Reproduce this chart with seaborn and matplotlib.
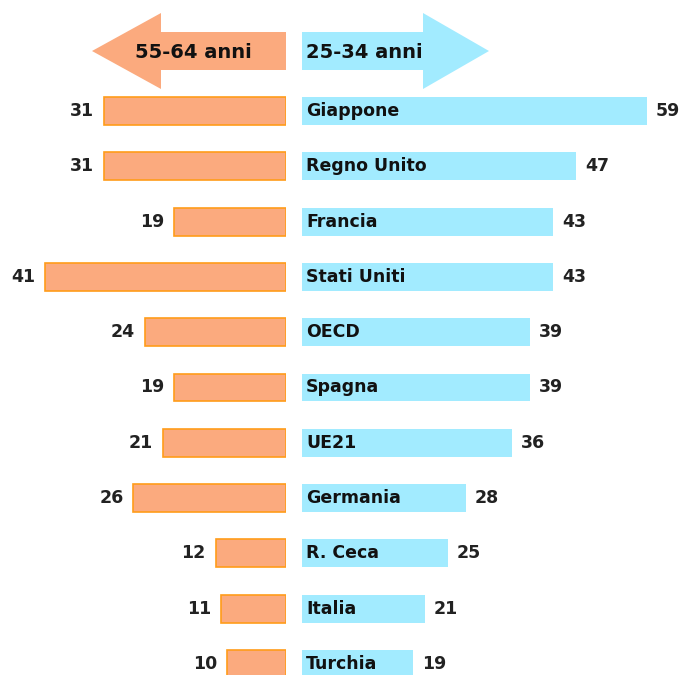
import numpy as np
import pandas as pd
import matplotlib
matplotlib.use('Agg')
import matplotlib.pyplot as plt
from matplotlib.patches import Polygon
import seaborn as sns

# data
countries = ['Giappone', 'Regno Unito', 'Francia', 'Stati Uniti', 'OECD', 'Spagna',
             'UE21', 'Germania', 'R. Ceca', 'Italia', 'Turchia']
age_25_34 = [59, 47, 43, 43, 39, 39, 36, 28, 25, 21, 19]
age_55_64 = [31, 31, 19, 41, 24, 19, 21, 26, 12, 11, 10]
left_label = '55-64 anni'
right_label = '25-34 anni'

orange = '#FBAA7E'
orange_edge = '#FF9C1A'
blue = '#A2EBFF'

sns.set_style('white')
plt.rcParams['font.family'] = ['DejaVu Sans']

W, H = 681, 675
fig = plt.figure(figsize=(W / 100, H / 100), dpi=100)

df = pd.DataFrame({'country': countries, 'young': age_25_34, 'old': age_55_64})

# px helpers
top_row, row_step = 111, 55.3
y_lo = (0 - top_row) / row_step
y_hi = (H - top_row) / row_step
bar_w = 28 / row_step

ax_l = fig.add_axes([0, 0, 286 / W, 1])
ax_r = fig.add_axes([302 / W, 0, 1 - 302 / W, 1])

sns.barplot(data=df, x='old', y='country', orient='h', ax=ax_l, color=orange,
            saturation=1, width=bar_w, edgecolor=orange_edge, linewidth=1.2)
sns.barplot(data=df, x='young', y='country', orient='h', ax=ax_r, color=blue,
            saturation=1, width=bar_w, linewidth=0)

ax_l.set_xlim(286 / 5.87, 0)
ax_r.set_xlim(0, (W - 302) / 5.84)
for ax in (ax_l, ax_r):
    ax.set_ylim(y_hi, y_lo)
    ax.axis('off')

fs = 12.5
for i, (c, v) in enumerate(zip(countries, age_55_64)):
    ax_l.text(v + 1.7, i, str(v), ha='right', va='center', fontsize=fs, fontweight='bold', color='#222222')
for i, (c, v) in enumerate(zip(countries, age_25_34)):
    ax_r.text(0.7, i, c, ha='left', va='center', fontsize=fs, fontweight='bold', color='#111111')
    ax_r.text(v + 1.5, i, str(v), ha='left', va='center', fontsize=fs, fontweight='bold', color='#222222')

# header arrows (pixel coordinates on an overlay axes)
ov = fig.add_axes([0, 0, 1, 1], zorder=5)
ov.set_xlim(0, W)
ov.set_ylim(H, 0)
ov.axis('off')
left_arrow = [(92, 51), (161, 13), (161, 32), (286, 32), (286, 70), (161, 70), (161, 89)]
right_arrow = [(489, 51), (423, 13), (423, 32), (302, 32), (302, 70), (423, 70), (423, 89)]
ov.add_patch(Polygon(left_arrow, closed=True, facecolor=orange, edgecolor='none'))
ov.add_patch(Polygon(right_arrow, closed=True, facecolor=blue, edgecolor='none'))
ov.text(193, 52, left_label, ha='center', va='center', fontsize=14, fontweight='bold', color='#111111')
ov.text(364, 52, right_label, ha='center', va='center', fontsize=14, fontweight='bold', color='#111111')

fig.savefig('out.png', dpi=100)
